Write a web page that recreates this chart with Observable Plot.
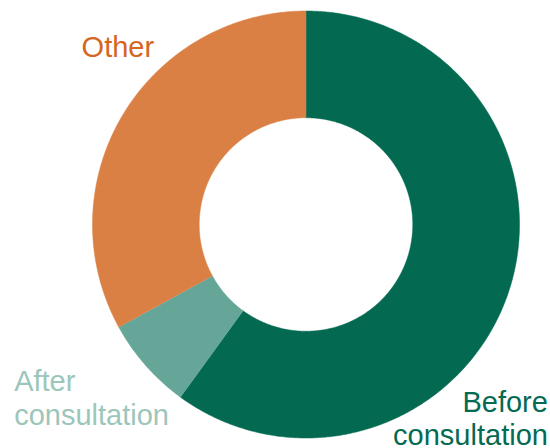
<!DOCTYPE html>
<html><head><meta charset="utf-8">
<script src="https://cdn.jsdelivr.net/npm/d3@7"></script>
<script src="https://cdn.jsdelivr.net/npm/@observablehq/plot@0.6"></script>
<style>body{margin:0;background:#fff;}</style>
</head><body><div id="chart"></div>
<script>
const categories = ["Before consultation", "After consultation", "Other"];
const values = [60, 7, 33];
const sliceColors = ["#036951", "#66a699", "#db8045"];
const labelTexts = ["Before\nconsultation", "After\nconsultation", "Other"];
const labelColors = ["#056a52", "#9dc6bb", "#d4661f"];

const innerRatio = 0.5;
const slices = d3.pie().sort(null).value(d => d.value)(
  categories.map((c, i) => ({category: c, value: values[i]}))
);
const ring = [];
slices.forEach(s => {
  const c = s.data.category;
  const n = Math.max(2, Math.ceil((s.endAngle - s.startAngle) / (Math.PI / 360)));
  for (let k = 0; k <= n; k++) {
    const a = s.startAngle + (s.endAngle - s.startAngle) * k / n;
    ring.push({category: c, x: Math.sin(a), y: Math.cos(a)});
  }
  for (let k = n; k >= 0; k--) {
    const a = s.startAngle + (s.endAngle - s.startAngle) * k / n;
    ring.push({category: c, x: innerRatio * Math.sin(a), y: innerRatio * Math.cos(a)});
  }
});

const labelMarks = [
  {i: 2, x: -1.051, y: 0.7845, anchor: "start"},
  {i: 1, x: -1.367, y: -0.9368, anchor: "start"},
  {i: 0, x: 1.133, y: -1.035, anchor: "end"}
].map(o => Plot.text([labelTexts[o.i]], {
  x: () => o.x, y: () => o.y, text: d => d,
  textAnchor: o.anchor, lineAnchor: "bottom", lineHeight: 1.17,
  fill: labelColors[o.i], fontSize: 29
}));

const chart = Plot.plot({
  width: 550, height: 448,
  marginLeft: 92, marginRight: 31, marginTop: 10.5, marginBottom: 10.5,
  x: {domain: [-1, 1], axis: null},
  y: {domain: [-1, 1], axis: null},
  color: {domain: categories, range: sliceColors},
  style: {fontFamily: "'Liberation Sans', Arial, sans-serif", background: "#fff", overflow: "visible"},
  marks: [
    Plot.line(ring, {x: "x", y: "y", z: "category", fill: "category", stroke: "category", strokeWidth: 0.5, curve: "linear"}),
    ...labelMarks
  ]
});
document.getElementById("chart").appendChild(chart);
</script>
</body></html>
